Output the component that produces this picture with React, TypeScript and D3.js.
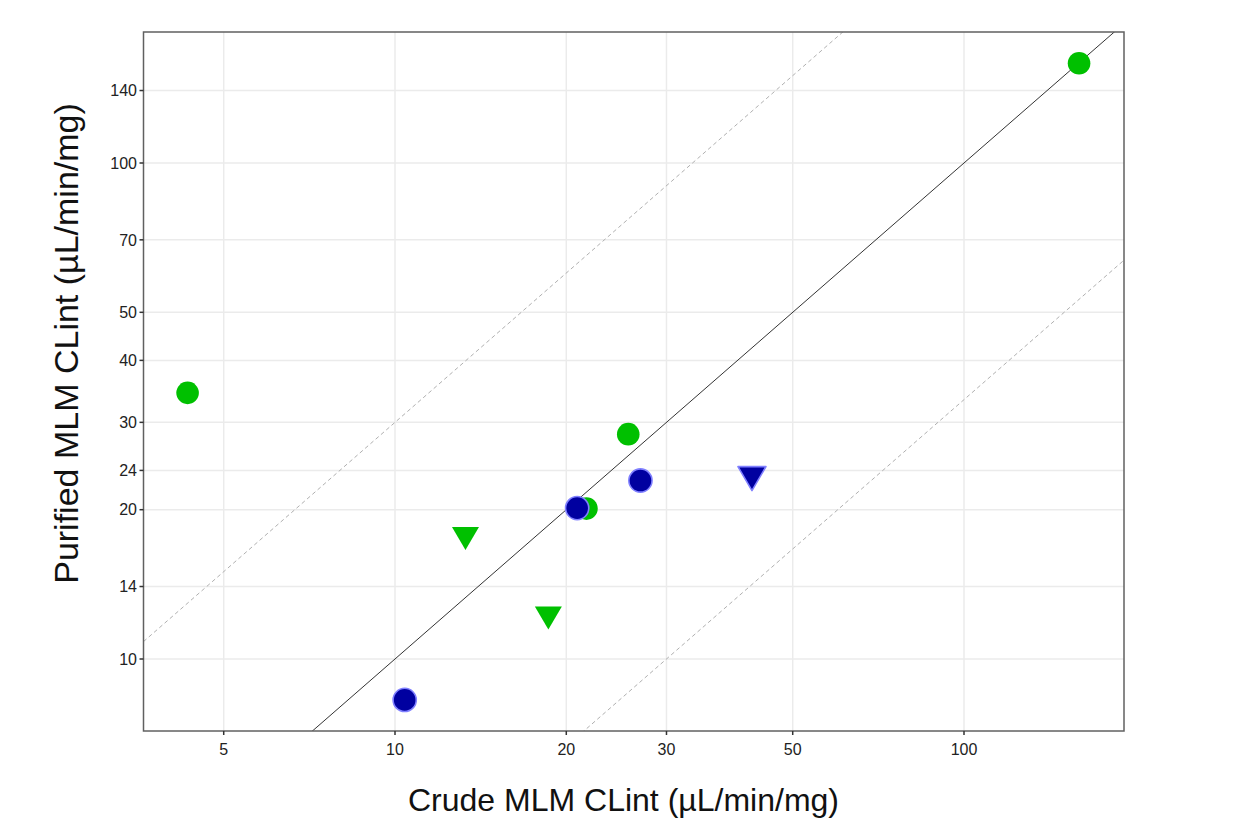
import React from "react";
import * as d3 from "d3";

const xTicks = [5, 10, 20, 30, 50, 100];
const yTicks = [10, 14, 20, 24, 30, 40, 50, 70, 100, 140];

const greenCircles = [
  { x: 4.32, y: 34.4 },
  { x: 25.7, y: 28.4 },
  { x: 21.7, y: 20.1 },
  { x: 159.3, y: 158.9 },
];
const greenTriangles = [
  { x: 13.3, y: 17.5 },
  { x: 18.6, y: 12.1 },
];
const blueCircles = [
  { x: 10.4, y: 8.27 },
  { x: 20.9, y: 20.15 },
  { x: 27.0, y: 22.9 },
];
const blueTriangles = [{ x: 42.4, y: 23.1 }];

const refLines = [
  { k: 1, dashed: false },
  { k: 3, dashed: true },
  { k: 1 / 3, dashed: true },
];

const W = 1248;
const H = 822;
const left = 143.5;
const right = 1124;
const top = 32;
const bottom = 731;

const x = d3
  .scaleLog()
  .domain([10, 100])
  .range([395, 964]);
const y = d3
  .scaleLog()
  .domain([10, 100])
  .range([659, 163]);

const xDomain = [x.invert(left), x.invert(right)];

function tri(cx: number, cy: number, w: number, h: number) {
  return `M${cx - w / 2},${cy - h / 2}L${cx + w / 2},${cy - h / 2}L${cx},${cy + h / 2}Z`;
}

export default function App() {
  const font = "'Liberation Sans', Arial, sans-serif";
  return (
    <svg
      width={W}
      height={H}
      style={{ position: "absolute", left: 0, top: 0, background: "#fff" }}
      fontFamily={font}
    >
      <defs>
        <clipPath id="plot">
          <rect x={left} y={top} width={right - left} height={bottom - top} />
        </clipPath>
      </defs>
      <rect x={0} y={0} width={W} height={H} fill="#fff" />
      {/* grid */}
      {xTicks.map((t) => (
        <line key={"gx" + t} x1={x(t)} x2={x(t)} y1={top} y2={bottom} stroke="#ebebeb" strokeWidth={1.5} />
      ))}
      {yTicks.map((t) => (
        <line key={"gy" + t} x1={left} x2={right} y1={y(t)} y2={y(t)} stroke="#ebebeb" strokeWidth={1.5} />
      ))}
      {/* reference lines */}
      <g clipPath="url(#plot)">
        {refLines.map((r, i) => (
          <line
            key={"r" + i}
            x1={x(xDomain[0])}
            y1={y(xDomain[0] * r.k)}
            x2={x(xDomain[1])}
            y2={y(xDomain[1] * r.k)}
            stroke={r.dashed ? "#b0b0b0" : "#333"}
            strokeWidth={1}
            strokeDasharray={r.dashed ? "4,3" : undefined}
          />
        ))}
      </g>
      {/* points */}
      <g>
        {greenCircles.map((p, i) => (
          <circle key={"gc" + i} cx={x(p.x)} cy={y(p.y)} r={11.3} fill="#00c000" />
        ))}
        {greenTriangles.map((p, i) => (
          <path key={"gt" + i} d={tri(x(p.x), y(p.y), 27, 23)} fill="#00c000" />
        ))}
        {blueCircles.map((p, i) => (
          <circle
            key={"bc" + i}
            cx={x(p.x)}
            cy={y(p.y)}
            r={11.6}
            fill="#0000a0"
            stroke="#8080ff"
            strokeWidth={1.6}
          />
        ))}
        {blueTriangles.map((p, i) => (
          <path
            key={"bt" + i}
            d={tri(x(p.x), y(p.y), 28, 24)}
            fill="#0000a0"
            stroke="#8080ff"
            strokeWidth={1.6}
            strokeLinejoin="round"
          />
        ))}
      </g>
      {/* frame */}
      <rect
        x={left}
        y={top}
        width={right - left}
        height={bottom - top}
        fill="none"
        stroke="#606060"
        strokeWidth={1.5}
      />
      {/* x ticks */}
      {xTicks.map((t) => (
        <g key={"xt" + t}>
          <line x1={x(t)} x2={x(t)} y1={bottom} y2={bottom + 4} stroke="#333" strokeWidth={1.5} />
          <text x={x(t)} y={755} textAnchor="middle" fontSize={16} fill="#222">
            {t}
          </text>
        </g>
      ))}
      {/* y ticks */}
      {yTicks.map((t) => (
        <g key={"yt" + t}>
          <line x1={left - 4} x2={left} y1={y(t)} y2={y(t)} stroke="#333" strokeWidth={1.5} />
          <text x={137} y={y(t) + 5.8} textAnchor="end" fontSize={16} fill="#222">
            {t}
          </text>
        </g>
      ))}
      {/* axis titles */}
      <text x={623.5} y={811} textAnchor="middle" fontSize={32} fill="#111">
        Crude MLM CLint (µL/min/mg)
      </text>
      <text
        transform={`translate(78,343.5) rotate(-90)`}
        textAnchor="middle"
        fontSize={34}
        fill="#111"
      >
        Purified MLM CLint (µL/min/mg)
      </text>
    </svg>
  );
}
